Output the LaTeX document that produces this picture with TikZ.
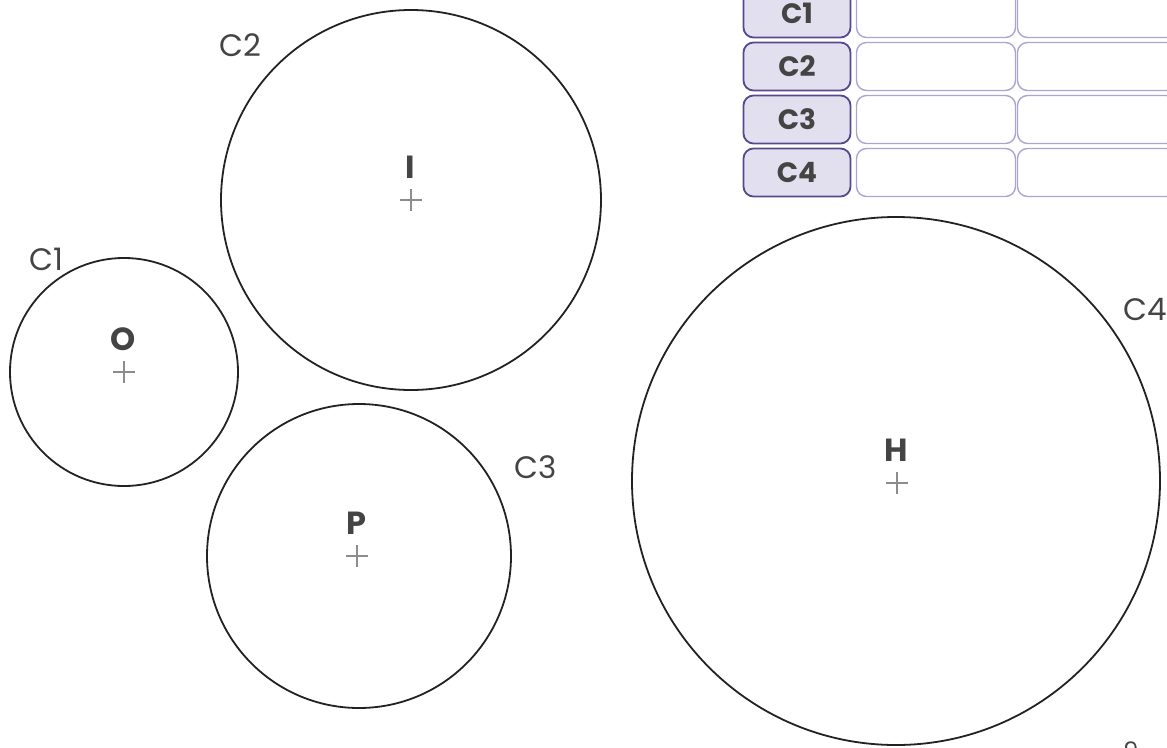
\documentclass[tikz,border=0pt]{standalone}
\usepackage{fontspec}
\setmainfont{Poppins}
\definecolor{tablepurple}{RGB}{88,72,140}
\definecolor{cellpurple}{RGB}{172,164,208}
\definecolor{headfill}{RGB}{226,224,238}
\definecolor{labelgray}{RGB}{68,68,68}
\definecolor{crossgray}{RGB}{140,140,140}
\definecolor{linegray}{RGB}{34,34,34}
\usetikzlibrary{calc}

\begin{document}
\begin{tikzpicture}[x=1pt,y=-1pt,
  circlename/.style={text=labelgray,font=\fontsize{31}{34}\selectfont},
  centername/.style={text=labelgray,font=\bfseries\fontsize{32}{34}\selectfont},
  crossmark/.style={crossgray,line width=1.3pt},
  headbox/.style={draw=tablepurple,fill=headfill,line width=1.8pt,rounded corners=10pt,
    minimum width=107pt,minimum height=48pt,inner sep=0pt,text=labelgray,
    font=\bfseries\fontsize{28}{30}\selectfont},
  cellbox/.style={draw=cellpurple,line width=1.4pt,rounded corners=10pt,
    minimum width=159pt,minimum height=48pt,inner sep=0pt}]
  \useasboundingbox (0,0) rectangle (1167,747);
  % circles
  \draw[linegray,line width=1.8pt] (124,372) circle[radius=114pt];
  \draw[linegray,line width=1.8pt] (411,200) circle[radius=190pt];
  \draw[linegray,line width=1.8pt] (359,556) circle[radius=152pt];
  \draw[linegray,line width=1.8pt] (896,481) circle[radius=264pt];
  % circle names
  \node[circlename] (nC1) at (46,259) {C1};
  \node[circlename] (nC2) at (240,45) {C2};
  \node[circlename] (nC3) at (536,467) {C3};
  \node[circlename] (nC4) at (1145,309) {C4};
  % centres
  \foreach \name/\x/\y in {O/124/372, I/411/200, P/357/556, H/897/483} {
    \coordinate (c\name) at (\x,\y);
    \node[centername] (\name) at ($(c\name)+(-1,-33)$) {\name};
    \draw[crossmark] ($(c\name)+(-11,0)$) -- ($(c\name)+(11,0)$);
    \draw[crossmark] ($(c\name)+(0,-11)$) -- ($(c\name)+(0,11)$);
  }
  % table
  \foreach \i in {1,...,4} {
    \node[headbox] (head\i) at (797,{13.5+(\i-1)*53}) {C\i};
    \node[cellbox] (cellA\i) at (936,{13.5+(\i-1)*53}) {};
    \node[cellbox] (cellB\i) at (1097,{13.5+(\i-1)*53}) {};
  }
  \node[text=labelgray,font=\fontsize{24}{26}\selectfont] (page) at (1131,751) {9};
\end{tikzpicture}
\end{document}
